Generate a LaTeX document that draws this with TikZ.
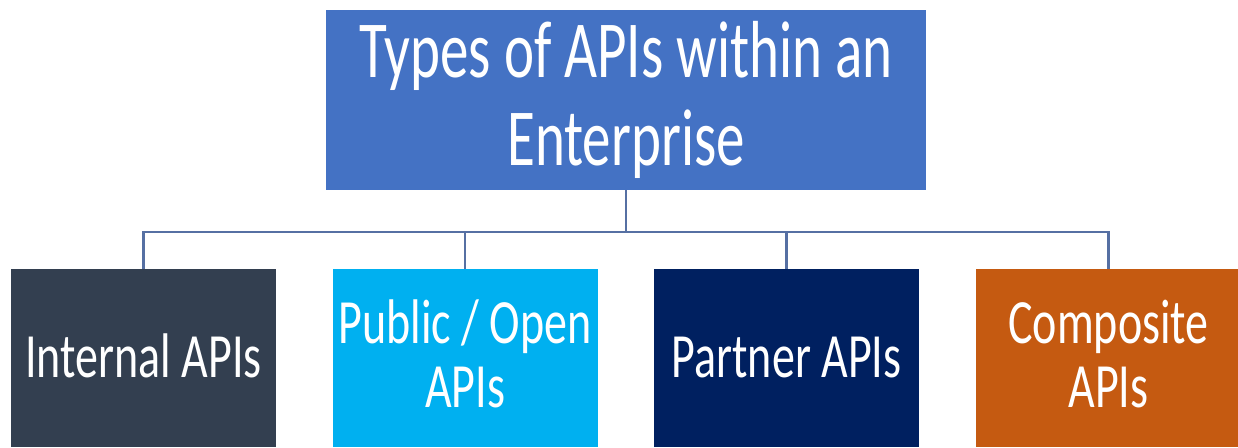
\documentclass[tikz,border=0pt]{standalone}
\usepackage{fontspec}
\setmainfont{Carlito}
\usepackage{graphicx}

\definecolor{topblue}{HTML}{4472C4}
\definecolor{slate}{HTML}{333F50}
\definecolor{sky}{HTML}{00B0F0}
\definecolor{navy}{HTML}{002060}
\definecolor{rust}{HTML}{C55A11}
\definecolor{linkblue}{HTML}{5670A3}

% tall Calibri-like lettering, first-line baseline as reference point
\newcommand{\talltext}[4]{%
  \scalebox{1}[#3]{\fontsize{#1}{#2}\selectfont
    \begin{tabular}[t]{@{}c@{}}#4\end{tabular}}}

\tikzset{
  box/.style={rectangle, inner sep=0pt, draw=none, fill=#1},
  head/.style={box=#1, minimum width=600pt, minimum height=180pt},
  leaf/.style={box=#1, minimum width=265pt, minimum height=178pt},
  lbl/.style={inner sep=0pt, anchor=base, text=white},
  conn/.style={draw=linkblue, line width=2.4pt}
}

\begin{document}
\begin{tikzpicture}[x=1pt, y=-1pt]
\useasboundingbox (0,0) rectangle (1238,447);

% boxes
\node[head=topblue] (top) at (626,100) {};
\node[leaf=slate] (int) at (143.5,358) {};
\node[leaf=sky]   (pub) at (465,358) {};
\node[leaf=navy]  (par) at (786.5,358) {};
\node[leaf=rust]  (com) at (1108.5,358) {};

% labels
\node[lbl] (topT) at (626,77) {\talltext{57}{62}{1.42}{Types of APIs within an\\Enterprise}};
\node[lbl] (intT) at (143.5,377) {\talltext{46}{47}{1.37}{Internal APIs}};
\node[lbl] (pubT) at (465,343) {\talltext{46}{47}{1.37}{Public / Open\\APIs}};
\node[lbl] (parT) at (786.5,377) {\talltext{46}{47}{1.37}{Partner APIs}};
\node[lbl] (comT) at (1108.5,343) {\talltext{46}{47}{1.37}{Composite\\APIs}};

% tree connectors
\coordinate (bus) at (626,232);
\draw[conn] (top.south) -- (bus);
\draw[conn] (bus) -| (int.north);
\draw[conn] (bus) -| (pub.north);
\draw[conn] (bus) -| (par.north);
\draw[conn] (bus) -| (com.north);
\end{tikzpicture}
\end{document}
